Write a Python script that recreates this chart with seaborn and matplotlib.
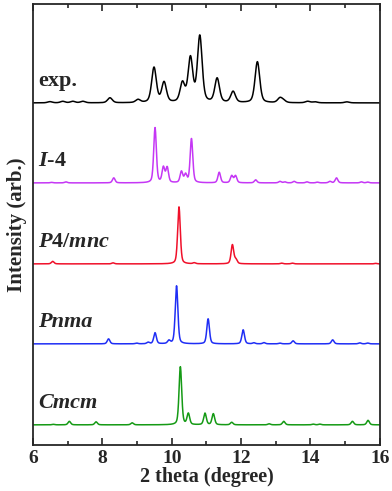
import numpy as np
import pandas as pd
import matplotlib
matplotlib.use("Agg")
import matplotlib.pyplot as plt
import seaborn as sns

# peak positions (2 theta) and heights
exp_pos = [6.49, 6.86, 7.15, 7.44, 8.22, 9.03, 9.49, 9.78, 10.31, 10.54, 10.81,
           11.31, 11.77, 12.47, 13.12, 13.22, 13.92, 14.13, 15.05]
exp_h = [1.2, 1.5, 1.5, 1.5, 5, 3, 35, 20, 19, 44, 66, 24, 11, 41, 4.5, 2, 1.5, 1, 1]

i4_pos = [6.54, 6.95, 8.33, 9.52, 9.76, 9.87, 10.28, 10.40, 10.57, 11.37, 11.73, 11.84,
          12.42, 13.12, 13.26, 13.53, 13.90, 14.20, 14.56, 14.75, 15.47, 15.65]
i4_h = [0.5, 1, 5, 55, 15, 15, 11, 8, 44, 10.5, 7, 7, 3, 1.5, 1, 1.5, 1, 0.7, 1.5, 5, 1, 0.8]

p4_pos = [6.57, 8.31, 10.21, 10.65, 11.75, 11.85, 13.17, 13.48, 15.88]
p4_h = [2.5, 1, 57, 1, 19, 4, 0.7, 0.7, 0.5]

pnma_pos = [8.18, 8.99, 9.32, 9.52, 9.92, 10.14, 11.05, 12.06, 12.37, 12.66, 13.12,
            13.50, 14.64, 15.42, 15.65]
pnma_h = [5, 0.7, 1.5, 11, 3, 58, 25, 14, 1, 1.2, 0.7, 3, 4, 1, 0.8]

cmcm_pos = [6.59, 7.05, 7.82, 8.86, 10.25, 10.48, 10.96, 11.20, 11.73, 12.81, 13.23,
            14.08, 14.27, 15.21, 15.66]
cmcm_h = [0.5, 3.5, 3, 2, 58, 11, 11.5, 11, 2.5, 1, 3.5, 0.7, 0.7, 3.5, 4.5]

names = ["exp.", "I-4", "P4/mnc", "Pnma", "Cmcm"]
offsets = [342, 262, 181, 101, 20]
colors = ["black", "#c537f5", "#f0102a", "#1f2ef5", "#159a15"]
fwhm = [0.16, 0.09, 0.09, 0.09, 0.09]
peaks = [(exp_pos, exp_h), (i4_pos, i4_h), (p4_pos, p4_h), (pnma_pos, pnma_h), (cmcm_pos, cmcm_h)]


def pattern(x, pos, h, w, eta=0.4):
    y = np.zeros_like(x)
    s = w / 2.3548
    g = w / 2
    for p, a in zip(pos, h):
        gau = np.exp(-0.5 * ((x - p) / s) ** 2)
        lor = g ** 2 / ((x - p) ** 2 + g ** 2)
        y += a * ((1 - eta) * gau + eta * lor)
    return y


x = np.linspace(6, 16, 2001)
frames = []
for n, off, w, (pos, h) in zip(names, offsets, fwhm, peaks):
    frames.append(pd.DataFrame({"theta": x, "I": off + pattern(x, pos, h, w), "phase": n}))
df = pd.concat(frames)

sns.set_style("ticks")
plt.rcParams["font.family"] = ["Liberation Serif", "DejaVu Serif"]
plt.rcParams["font.weight"] = "bold"
plt.rcParams["mathtext.fontset"] = "custom"
plt.rcParams["mathtext.it"] = "Liberation Serif:italic:bold"
plt.rcParams["mathtext.rm"] = "Liberation Serif:bold"

fig = plt.figure(figsize=(3.92, 4.91), dpi=100)
ax = fig.add_axes([0.084, 0.094, 0.885, 0.898])

for n, c in zip(names, colors):
    sns.lineplot(data=df[df["phase"] == n], x="theta", y="I", color=c, lw=1.1, ax=ax)

labels = ["exp.", r"$I$-4", r"$P$4/$mnc$", "Pnma", "Cmcm"]
styles = ["normal", "normal", "normal", "italic", "italic"]
for lab, st, off in zip(labels, styles, offsets):
    ax.text(6.15, off + 17, lab, fontsize=16, fontweight="bold", fontstyle=st, va="baseline")

ax.set_xlim(6, 16)
ax.set_ylim(0, 441)
ax.set_xticks(range(6, 17, 2))
ax.set_xticks(range(7, 16, 2), minor=True)
ax.set_yticks([])
ax.tick_params(axis="x", which="both", direction="in", top=True, labelsize=14, width=1.2, pad=4)
ax.tick_params(axis="x", which="major", length=5)
ax.tick_params(axis="x", which="minor", length=3)
for lbl in ax.get_xticklabels():
    lbl.set_fontweight("bold")
for sp in ax.spines.values():
    sp.set_linewidth(1.3)
ax.set_xlabel("2 theta (degree)", fontsize=14.5, fontweight="bold", labelpad=0)
ax.set_ylabel("Intensity (arb.)", fontsize=15, fontweight="bold", labelpad=4)

fig.savefig("out.png", dpi=100)
